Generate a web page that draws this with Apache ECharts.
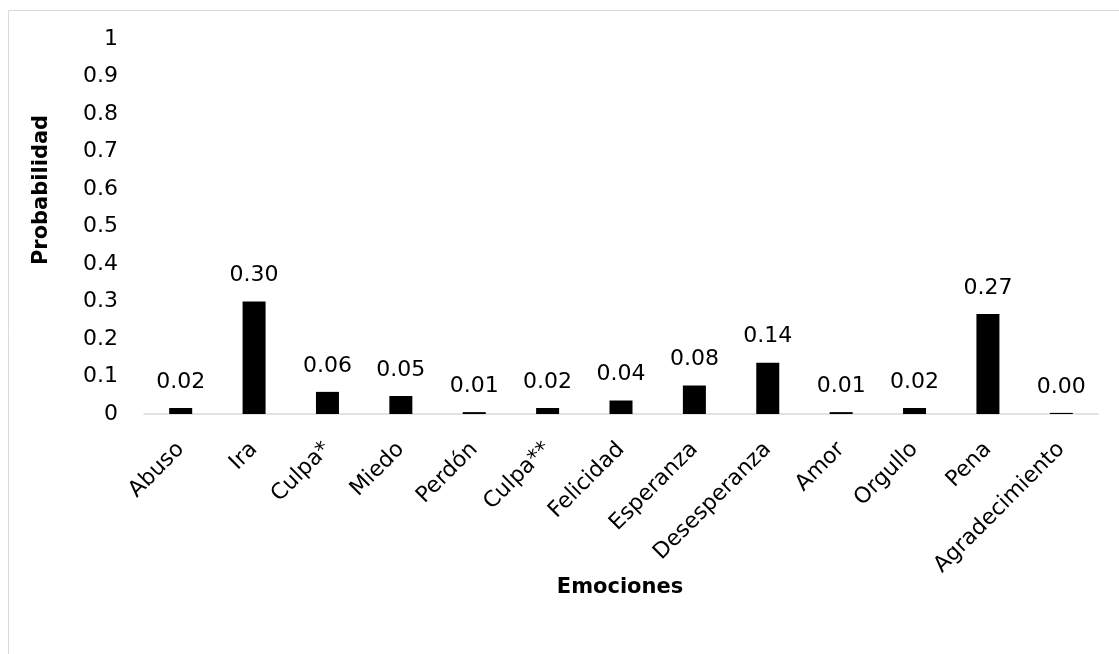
<!DOCTYPE html>
<html>
<head>
<meta charset="utf-8">
<script src="https://cdn.jsdelivr.net/npm/echarts@6/dist/echarts.min.js"></script>
<style>
html,body{margin:0;padding:0;background:#fff;}
#chart{width:1119px;height:654px;}
</style>
</head>
<body>
<div id="chart"></div>
<script>
const categories = ['Abuso','Ira','Culpa*','Miedo','Perdón','Culpa**','Felicidad','Esperanza','Desesperanza','Amor','Orgullo','Pena','Agradecimiento'];
const probabilities = [0.016,0.300,0.059,0.048,0.005,0.016,0.036,0.076,0.137,0.005,0.016,0.267,0.003];
const yTicks = [0,0.1,0.2,0.3,0.4,0.5,0.6,0.7,0.8,0.9,1];
const xTitle = 'Emociones';
const yTitle = 'Probabilidad';

const FONT = 'DejaVu Sans';
const chart = echarts.init(document.getElementById('chart'));
chart.setOption({
  backgroundColor: '#fff',
  animation: false,
  grid: {left: 144, right: 21, top: 39, bottom: 240, containLabel: false},
  graphic: [
    {type:'rect', shape:{x:8.5,y:10.5,width:1200,height:800}, style:{fill:'none',stroke:'#d9d9d9',lineWidth:1}, z:-10},
    {type:'text', x:620, y:588, style:{text:xTitle, font:'bold 21px "'+FONT+'"', fill:'#000', textAlign:'center', textVerticalAlign:'middle'}},
    {type:'text', x:42, y:190, rotation:Math.PI/2, style:{text:yTitle, font:'bold 21px "'+FONT+'"', fill:'#000', textAlign:'center', textVerticalAlign:'middle'}}
  ],
  xAxis: {
    type:'category',
    data: categories,
    axisLine:{show:true, lineStyle:{color:'#d9d9d9', width:1.5}},
    axisTick:{show:false},
    axisLabel:{rotate:45, interval:0, margin:32, color:'#000', fontFamily:FONT, fontSize:22}
  },
  yAxis: {
    type:'value', min:0, max:1, interval:0.1,
    axisLine:{show:false}, axisTick:{show:false}, splitLine:{show:false},
    axisLabel:{color:'#000', fontFamily:FONT, fontSize:22, margin:26,
      formatter: v => { const t = yTicks.find(x => Math.abs(x - v) < 1e-9); return t === undefined ? '' : String(t); }}
  },
  series: [{
    type:'bar',
    data: probabilities,
    barWidth: 23,
    itemStyle:{color:'#000'},
    label:{show:true, position:'top', distance:15, color:'#000', fontFamily:FONT, fontSize:22,
      formatter: p => p.value.toFixed(2)}
  }]
});
</script>
</body>
</html>
